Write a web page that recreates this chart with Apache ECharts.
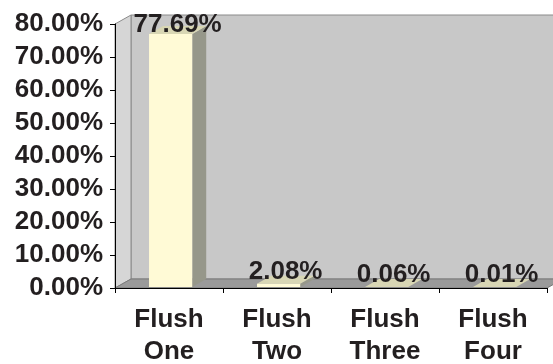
<!DOCTYPE html>
<html>
<head>
    <meta charset="utf-8">
    <title>Flush share</title>
    <script src="https://cdn.jsdelivr.net/npm/echarts@6/dist/echarts.min.js"></script>
    <style>
        html, body { margin: 0; padding: 0; background: #fff; }
    </style>
</head>
<body>
<div id="main" style="width: 553px;height:364px;"></div>
<script type="text/javascript">
    // data
    var categories = ['Flush\nOne', 'Flush\nTwo', 'Flush\nThree', 'Flush\nFour'];
    var shares = [77.69, 2.08, 0.06, 0.01];
    var yMax = 80;
    var yStep = 10;

    var FONT = '"Liberation Sans", Arial, sans-serif';
    var INK = '#231f20';

    // depth of the fake 3d box
    var WDX = 16, WDY = -9;
    var BDX = 14, BDY = -8;

    function renderWalls(params, api) {
        var cs = params.coordSys;
        var l = cs.x, r = cs.x + cs.width, t = cs.y, b = cs.y + cs.height;
        return {
            type: 'group',
            children: [
                { // back wall
                    type: 'rect',
                    shape: { x: l + WDX, y: t + WDY, width: cs.width + 40, height: cs.height },
                    style: { fill: '#c8c8c8', stroke: '#8a8a8a', lineWidth: 1 }
                },
                { // left wall
                    type: 'polygon',
                    shape: { points: [[l, b], [l, t], [l + WDX, t + WDY], [l + WDX, b + WDY]] },
                    style: { fill: '#d6d6d6', stroke: '#8a8a8a', lineWidth: 1 }
                },
                { // floor
                    type: 'polygon',
                    shape: { points: [[l, b], [r, b], [r + WDX, b + WDY], [l + WDX, b + WDY]] },
                    style: { fill: '#9a9a9a', stroke: '#7a7a7a', lineWidth: 1 }
                }
            ]
        };
    }

    function renderBar(params, api) {
        var i = api.value(0), v = api.value(1);
        var top = api.coord([i, v]);
        var base = api.coord([i, 0]);
        var band = api.size([1, 0])[0];
        var x0 = base[0] - band / 2 + band * 0.315;
        var w = band * 0.4;
        var yb = base[1] - 1;
        var yt = Math.min(top[1] + 2.5, yb);
        var x1 = x0 + w;
        var labelY = Math.max(yt + 1, 38);
        return {
            type: 'group',
            children: [
                {
                    type: 'polygon',
                    shape: { points: [[x1, yb], [x1, yt], [x1 + BDX, yt + BDY], [x1 + BDX, yb + BDY]] },
                    style: { fill: '#96978a' }
                },
                {
                    type: 'polygon',
                    shape: { points: [[x0, yt], [x1, yt], [x1 + BDX, yt + BDY], [x0 + BDX, yt + BDY]] },
                    style: { fill: '#d8d6b4' }
                },
                {
                    type: 'rect',
                    shape: { x: x0, y: yt, width: w, height: yb - yt },
                    style: { fill: '#fffad6' }
                },
                {
                    type: 'text',
                    x: x0 + w / 2 + BDX / 2,
                    y: labelY,
                    style: {
                        text: v.toFixed(2) + '%',
                        fill: INK,
                        font: 'bold 26px ' + FONT,
                        align: 'center',
                        verticalAlign: 'bottom'
                    }
                }
            ]
        };
    }

    var myChart = echarts.init(document.getElementById('main'));

    var option = {
        animation: false,
        grid: {
            left: 115,
            right: 6,
            top: 24,
            bottom: 76,
            containLabel: false,
            outerBoundsMode: 'none'
        },
        xAxis: {
            type: 'category',
            data: categories,
            boundaryGap: true,
            axisLine: { show: true, lineStyle: { color: '#000', width: 1 } },
            axisTick: { show: true, length: 5, lineStyle: { color: '#000' } },
            axisLabel: {
                interval: 0,
                margin: 16,
                color: INK,
                fontFamily: FONT,
                fontWeight: 'bold',
                fontSize: 26,
                lineHeight: 32
            },
            z: 5
        },
        yAxis: {
            type: 'value',
            min: 0,
            max: yMax,
            interval: yStep,
            splitLine: { show: false },
            axisLine: { show: true, lineStyle: { color: '#000', width: 1 } },
            axisTick: { show: true, length: 5, lineStyle: { color: '#000' } },
            axisLabel: {
                margin: 12,
                color: INK,
                fontFamily: FONT,
                fontWeight: 'bold',
                fontSize: 26,
                formatter: function (v) { return v.toFixed(2) + '%'; }
            },
            z: 5
        },
        series: [
            {
                type: 'custom',
                name: 'walls',
                renderItem: renderWalls,
                data: [[0, 0]],
                silent: true,
                z: 1
            },
            {
                type: 'custom',
                name: 'share',
                renderItem: renderBar,
                data: shares.map(function (s, i) { return [i, s]; }),
                encode: { x: 0, y: 1 },
                z: 3
            }
        ]
    };

    myChart.setOption(option);
</script>
</body>
</html>
